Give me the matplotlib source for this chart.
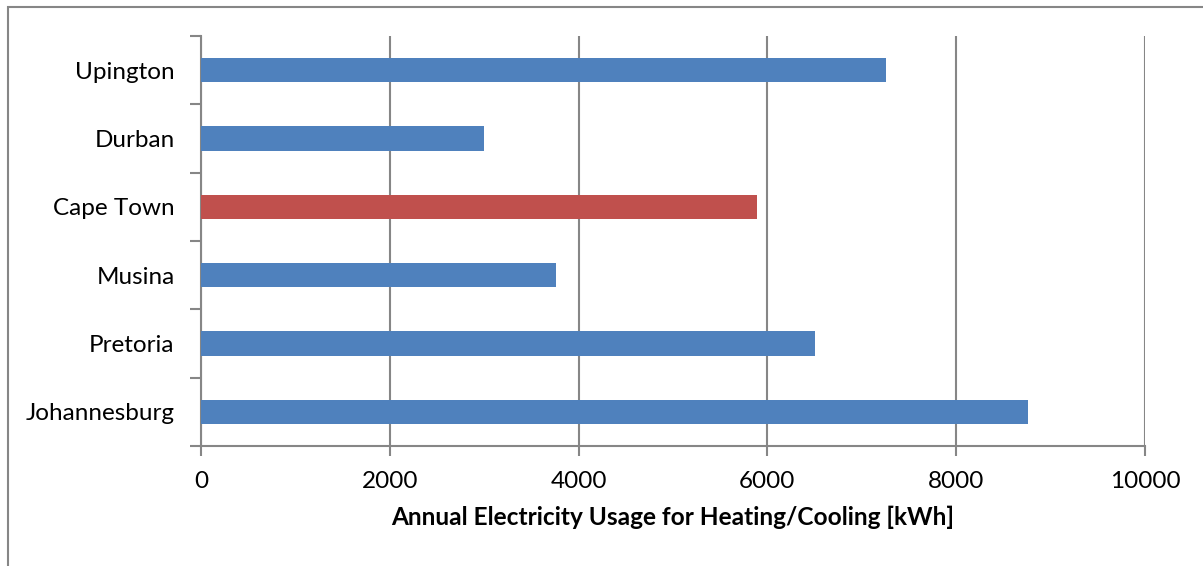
import matplotlib
matplotlib.use("Agg")
import matplotlib.pyplot as plt
from matplotlib.patches import Rectangle

cities = ["Johannesburg", "Pretoria", "Musina", "Cape Town", "Durban", "Upington"]
usage_kwh = [8760, 6505, 3760, 5890, 3000, 7260]
highlight = "Cape Town"
xticks = [0, 2000, 4000, 6000, 8000, 10000]

BLUE = "#4F81BD"
RED = "#C0504D"
GRID = "#868686"

plt.rcParams["font.family"] = ["Lato", "DejaVu Sans"]

fig = plt.figure(figsize=(12.03, 5.66), dpi=100)
ax = fig.add_axes([201 / 1203, 1 - 446 / 566, (1145 - 201) / 1203, (446 - 36) / 566])

colors = [RED if c == highlight else BLUE for c in cities]
ypos = list(range(len(cities)))
ax.barh(ypos, usage_kwh, height=0.36, color=colors, zorder=3)

ax.set_xlim(0, 10000)
ax.set_ylim(-0.5, len(cities) - 0.5)
ax.set_xticks(xticks)
ax.set_xticklabels([str(t) for t in xticks], fontsize=17.5)
ax.set_yticks(ypos)
ax.set_yticklabels(cities, fontsize=17.5)
ax.tick_params(axis="y", length=0, pad=19)
ax.tick_params(axis="x", length=7, color=GRID, width=1.5, pad=11)

# category boundary ticks on the y axis
ax.set_yticks([y - 0.5 for y in ypos] + [len(cities) - 0.5], minor=True)
ax.tick_params(axis="y", which="minor", length=8, color=GRID, width=1.5)

ax.grid(axis="x", color=GRID, linewidth=1.5, zorder=0)
for side in ["top", "right"]:
    ax.spines[side].set_visible(False)
for side in ["left", "bottom"]:
    ax.spines[side].set_color(GRID)
    ax.spines[side].set_linewidth(1.5)

ax.set_xlabel("Annual Electricity Usage for Heating/Cooling [kWh]",
              fontsize=17.6, fontweight="bold", labelpad=10)

# outer chart border
fig.patches.append(Rectangle((8 / 1203, -0.1), 1.2, 1.1 - 7 / 566,
                             transform=fig.transFigure, fill=False,
                             edgecolor=GRID, linewidth=1.5))

fig.savefig("out.png", dpi=100)
